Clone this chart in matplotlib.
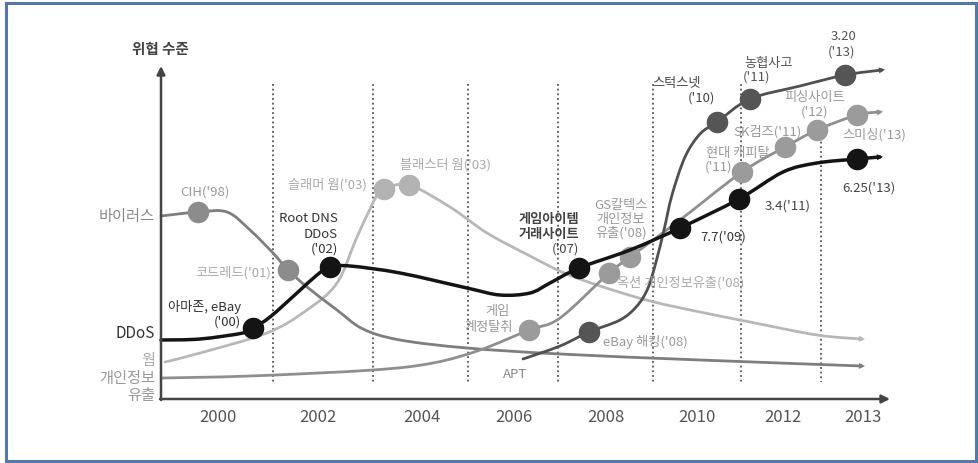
import numpy as np
import matplotlib
matplotlib.use("Agg")
import matplotlib.pyplot as plt
from matplotlib.path import Path
from matplotlib.patches import PathPatch, FancyArrowPatch, Rectangle

plt.rcParams['font.family'] = ['Noto Sans CJK KR', 'DejaVu Sans']

# ---------------- data (diagram coordinates: x to the right, y downward) -------------
YEAR_LABELS = ["2000", "2002", "2004", "2006", "2008", "2010", "2012", "2013"]
YEAR_POS = [218, 318, 422, 514, 606, 697, 783, 863]

DIVIDER_X = [273, 373, 468, 558, 653, 741, 821]
DIVIDER_TOP = [84, 84, 84, 84, 84, 84, 137]

CATEGORY_LABELS = ["바이러스", "DDoS", "웜", "개인정보\n유출"]
CATEGORY_Y = [217, 333, 360, 387]
CATEGORY_COLORS = ["#8a8a8a", "#333333", "#aaaaaa", "#999999"]

# 바이러스 (virus)
VIRUS_X = [161, 198, 227, 250, 273, 288, 307, 337, 363, 400, 467, 560, 700, 862]
VIRUS_Y = [216, 212, 212, 230, 253, 270, 287, 310, 329, 340, 348, 354, 360, 366]
VIRUS_MX = [198, 288]
VIRUS_MY = [212, 270]

# 웜 (worm)
WORM_X = [165, 200, 267, 307, 337, 357, 377, 384, 409, 450, 487, 530, 562, 600, 650, 700, 750, 817, 862]
WORM_Y = [362, 353, 333, 310, 283, 237, 195, 189, 185, 207, 233, 256, 272, 286, 301, 312, 322, 335, 339]
WORM_MX = [384, 409]
WORM_MY = [189, 185]

# 개인정보 유출 (data leak)
LEAK_X = [162, 250, 373, 433, 480, 529, 560, 609, 630, 680, 742, 785, 817, 857, 880]
LEAK_Y = [378, 376, 370, 363, 350, 330, 318, 273, 257, 220, 172, 147, 130, 115, 112]
LEAK_MX = [529, 609, 630, 742, 785, 817, 857]
LEAK_MY = [330, 273, 257, 172, 147, 130, 115]

# APT
APT_X = [523, 560, 589, 620, 637, 648, 656, 664, 672, 685, 700, 717, 750, 800, 845, 882]
APT_Y = [359, 346, 332, 320, 306, 288, 262, 230, 195, 157, 134, 122, 99, 86, 75, 70]
APT_MX = [589, 717, 750, 845]
APT_MY = [332, 122, 99, 75]

# DDoS
DDOS_X = [161, 200, 243, 253, 270, 297, 317, 330, 350, 400, 467, 500, 530, 550, 579, 630, 680, 739, 783, 817, 857, 880]
DDOS_Y = [340, 339, 333, 328, 317, 293, 275, 267, 266, 273, 288, 295, 293, 283, 268, 250, 228, 199, 172, 163, 159, 157]
DDOS_MX = [253, 330, 579, 680, 739, 857]
DDOS_MY = [328, 267, 268, 228, 199, 159]

# event labels: text, x, y, ha, color, weight
EVENT_LABELS = [
    ("CIH('98)", 205, 192, "center", "#9a9a9a", "normal"),
    ("슬래머 웜('03)", 367, 185, "right", "#aaaaaa", "normal"),
    ("블래스터 웜('03)", 446, 165, "center", "#aaaaaa", "normal"),
    ("Root DNS", 338, 219, "right", "#333333", "normal"),
    ("DDoS", 338, 234, "right", "#333333", "normal"),
    ("('02)", 338, 249, "right", "#333333", "normal"),
    ("코드레드('01)", 271, 273, "right", "#aaaaaa", "normal"),
    ("아마존, eBay", 241, 307, "right", "#333333", "normal"),
    ("('00)", 241, 322, "right", "#333333", "normal"),
    ("게임아이템", 579, 219, "right", "#444444", "bold"),
    ("거래사이트", 579, 234, "right", "#444444", "bold"),
    ("('07)", 579, 249, "right", "#444444", "normal"),
    ("GS칼텍스", 621, 205, "center", "#999999", "normal"),
    ("개인정보", 621, 219, "center", "#999999", "normal"),
    ("유출('08)", 621, 233, "center", "#999999", "normal"),
    ("옥션 개인정보유출('08)", 617, 283, "left", "#aaaaaa", "normal"),
    ("게임", 497, 312, "center", "#999999", "normal"),
    ("계정탈취", 513, 327, "right", "#999999", "normal"),
    ("eBay 해킹('08)", 603, 342, "left", "#999999", "normal"),
    ("APT", 515, 374, "center", "#888888", "normal"),
    ("7.7('09)", 700, 237, "left", "#333333", "normal"),
    ("3.4('11)", 765, 206, "left", "#444444", "normal"),
    ("6.25('13)", 842, 188, "left", "#444444", "normal"),
    ("스턱스넷", 701, 83, "right", "#444444", "normal"),
    ("('10)", 715, 98, "right", "#444444", "normal"),
    ("농협사고", 744, 63, "left", "#555555", "normal"),
    ("('11)", 743, 77, "left", "#555555", "normal"),
    ("3.20", 844, 37, "center", "#555555", "normal"),
    ("('13)", 842, 52, "center", "#555555", "normal"),
    ("피싱사이트", 815, 98, "center", "#999999", "normal"),
    ("('12)", 815, 112, "center", "#999999", "normal"),
    ("SK컴즈('11)", 767, 132, "center", "#999999", "normal"),
    ("스미싱('13)", 842, 135, "left", "#999999", "normal"),
    ("현대 캐피탈", 706, 153, "left", "#999999", "normal"),
    ("('11)", 705, 167, "left", "#999999", "normal"),
]

# ---------------- drawing ----------------
fig = plt.figure(figsize=(9.79, 4.63), dpi=100)
ax = fig.add_axes([0, 0, 1, 1])
ax.set_xlim(0, 979)
ax.set_ylim(463, 0)
ax.axis('off')

# frame
ax.add_patch(Rectangle((6, 3), 970, 458, fill=False, edgecolor="#5577aa", lw=2.2, zorder=1))


def smooth_path(xs, ys):
    pts = np.column_stack([xs, ys]).astype(float)
    verts = [pts[0]]
    codes = [Path.MOVETO]
    n = len(pts)
    for i in range(n - 1):
        p0 = pts[i - 1] if i > 0 else pts[i]
        p1 = pts[i]
        p2 = pts[i + 1]
        p3 = pts[i + 2] if i + 2 < n else p2
        c1 = p1 + (p2 - p0) / 6.0
        c2 = p2 - (p3 - p1) / 6.0
        verts += [c1, c2, p2]
        codes += [Path.CURVE4] * 3
    return Path(verts, codes)


def draw_series(xs, ys, mx, my, line_color, marker_color, lw, z, arrow=True):
    ax.add_patch(PathPatch(smooth_path(xs, ys), fill=False, edgecolor=line_color,
                           lw=lw, capstyle='round', joinstyle='round', zorder=z))
    if arrow:
        ax.add_patch(FancyArrowPatch((xs[-2], ys[-2]), (xs[-1] + 3, ys[-1] + (ys[-1] - ys[-2]) * 3 / max(1, xs[-1] - xs[-2])),
                                     arrowstyle='-|>', mutation_scale=11, color=line_color,
                                     lw=0, shrinkA=0, shrinkB=0, zorder=z))
    ax.plot(mx, my, 'o', ms=14.5, mfc=marker_color, mec=marker_color, zorder=z + 0.5)


# dotted dividers
for xd, yt in zip(DIVIDER_X, DIVIDER_TOP):
    ax.plot([xd, xd], [yt, 382], color="#555555", lw=1.3, ls=(0, (1, 1.6)), zorder=2)

draw_series(WORM_X, WORM_Y, WORM_MX, WORM_MY, "#b8b8b8", "#b3b3b3", 2.0, 3)
draw_series(VIRUS_X, VIRUS_Y, VIRUS_MX, VIRUS_MY, "#7e7e7e", "#8c8c8c", 2.0, 4)
draw_series(LEAK_X, LEAK_Y, LEAK_MX, LEAK_MY, "#8f8f8f", "#9b9b9b", 2.0, 5)
draw_series(APT_X, APT_Y, APT_MX, APT_MY, "#505050", "#555555", 2.0, 6)
draw_series(DDOS_X, DDOS_Y, DDOS_MX, DDOS_MY, "#141414", "#141414", 2.5, 7)

# axes with arrows
ax.annotate('', xy=(161, 66), xytext=(161, 400),
            arrowprops=dict(arrowstyle='-|>', color="#444444", lw=1.8, mutation_scale=12,
                            shrinkA=0, shrinkB=0), zorder=8)
ax.annotate('', xy=(890, 399), xytext=(160, 399),
            arrowprops=dict(arrowstyle='-|>', color="#444444", lw=1.8, mutation_scale=12,
                            shrinkA=0, shrinkB=0), zorder=8)

ax.text(160, 49, "위협 수준", ha='center', va='center', fontsize=10.5, color="#444444",
        fontweight='bold', zorder=9)

for lab, xp in zip(YEAR_LABELS, YEAR_POS):
    ax.text(xp, 418, lab, ha='center', va='center', fontsize=12, color="#555555", zorder=9)

for lab, yp, c in zip(CATEGORY_LABELS, CATEGORY_Y, CATEGORY_COLORS):
    ax.text(155, yp, lab, ha='right', va='center', fontsize=11, color=c,
            linespacing=1.05, zorder=9)

for txt, xp, yp, ha, c, w in EVENT_LABELS:
    ax.text(xp, yp, txt, ha=ha, va='center', fontsize=9.5, color=c, fontweight=w, zorder=10)

fig.savefig("out.png", dpi=100, facecolor="white")
